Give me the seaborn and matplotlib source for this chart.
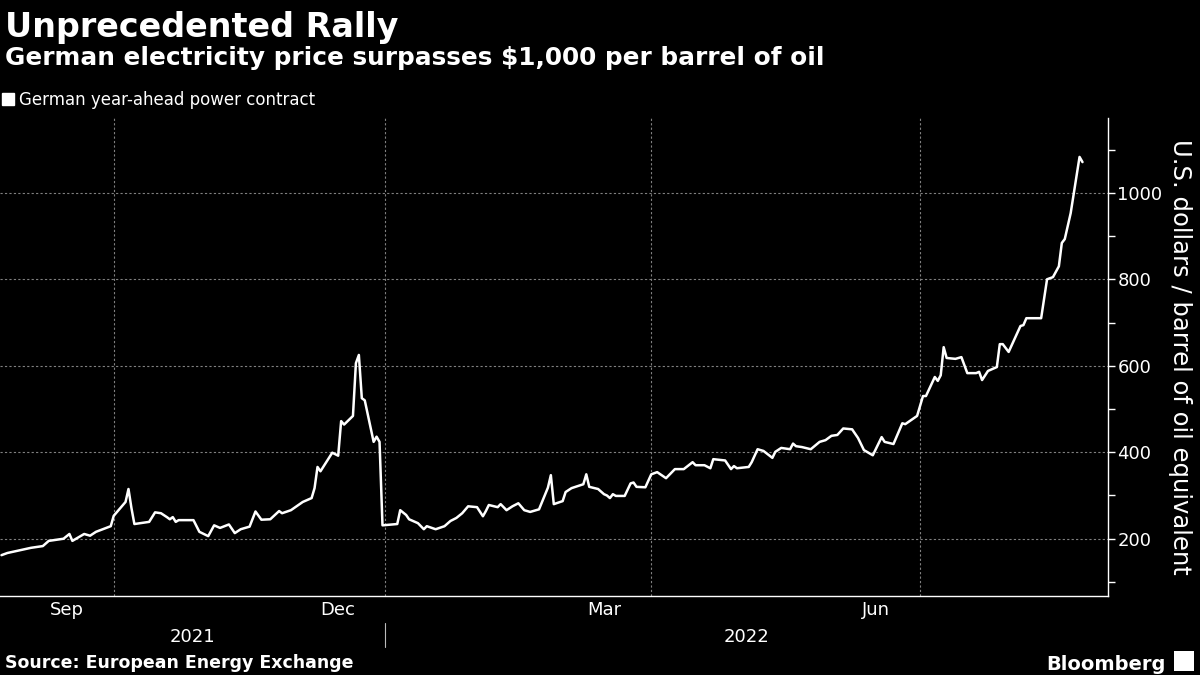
import pandas as pd
import matplotlib
matplotlib.use("Agg")
import matplotlib.pyplot as plt
import matplotlib.dates as mdates
from matplotlib.patches import Patch, Rectangle
from matplotlib.ticker import NullFormatter
import seaborn as sns

# German year-ahead power contract, USD per barrel of oil equivalent
dates = [
    "2021-08-24", "2021-08-26", "2021-09-01", "2021-09-03", "2021-09-07", "2021-09-09",
    "2021-09-14", "2021-09-16", "2021-09-17", "2021-09-21", "2021-09-23", "2021-09-25",
    "2021-09-30", "2021-10-01", "2021-10-05", "2021-10-06", "2021-10-07", "2021-10-08",
    "2021-10-13", "2021-10-15", "2021-10-17", "2021-10-19", "2021-10-20", "2021-10-21",
    "2021-10-22", "2021-10-23", "2021-10-28", "2021-10-30", "2021-11-02", "2021-11-04",
    "2021-11-06", "2021-11-09", "2021-11-11", "2021-11-13", "2021-11-16", "2021-11-18",
    "2021-11-20", "2021-11-23", "2021-11-26", "2021-11-27", "2021-11-30", "2021-12-04",
    "2021-12-07", "2021-12-08", "2021-12-09", "2021-12-10", "2021-12-14", "2021-12-16",
    "2021-12-17", "2021-12-18", "2021-12-21", "2021-12-22", "2021-12-23", "2021-12-24",
    "2021-12-25", "2021-12-28", "2021-12-29", "2021-12-30", "2021-12-31", "2022-01-05",
    "2022-01-06", "2022-01-08", "2022-01-09", "2022-01-12", "2022-01-14", "2022-01-15",
    "2022-01-18", "2022-01-21", "2022-01-23", "2022-01-25", "2022-01-27", "2022-01-29",
    "2022-02-01", "2022-02-03", "2022-02-04", "2022-02-05", "2022-02-08", "2022-02-09",
    "2022-02-11", "2022-02-13", "2022-02-15", "2022-02-17", "2022-02-19", "2022-02-22",
    "2022-02-25", "2022-02-26", "2022-02-27", "2022-03-02", "2022-03-03", "2022-03-05",
    "2022-03-09", "2022-03-10", "2022-03-11", "2022-03-14", "2022-03-16", "2022-03-17",
    "2022-03-18", "2022-03-19", "2022-03-20", "2022-03-23", "2022-03-25", "2022-03-26",
    "2022-03-27", "2022-03-30", "2022-04-01", "2022-04-03", "2022-04-06", "2022-04-09",
    "2022-04-12", "2022-04-15", "2022-04-16", "2022-04-19", "2022-04-21", "2022-04-22",
    "2022-04-26", "2022-04-28", "2022-04-29", "2022-04-30", "2022-05-04", "2022-05-05",
    "2022-05-07", "2022-05-09", "2022-05-12", "2022-05-13", "2022-05-15", "2022-05-18",
    "2022-05-19", "2022-05-20", "2022-05-22", "2022-05-25", "2022-05-28", "2022-05-30",
    "2022-06-01", "2022-06-03", "2022-06-05", "2022-06-08", "2022-06-10", "2022-06-12",
    "2022-06-15", "2022-06-18", "2022-06-19", "2022-06-22", "2022-06-25", "2022-06-26",
    "2022-06-30", "2022-07-02", "2022-07-03", "2022-07-06", "2022-07-07", "2022-07-08",
    "2022-07-09", "2022-07-10", "2022-07-13", "2022-07-15", "2022-07-17", "2022-07-20",
    "2022-07-21", "2022-07-22", "2022-07-24", "2022-07-27", "2022-07-28", "2022-07-29",
    "2022-07-31", "2022-08-04", "2022-08-05", "2022-08-06", "2022-08-11", "2022-08-13",
    "2022-08-15", "2022-08-17", "2022-08-18", "2022-08-19", "2022-08-21", "2022-08-24",
    "2022-08-25",
]
prices = [
    162, 167, 176, 179, 183, 195,
    200, 211, 195, 211, 207, 216,
    229, 253, 285, 315, 271, 234,
    239, 261, 259, 250, 245, 250,
    239, 243, 243, 216, 206, 231,
    225, 233, 213, 222, 228, 263,
    244, 245, 264, 259, 266, 285,
    294, 317, 366, 356, 399, 392,
    472, 464, 484, 606, 625, 525,
    520, 424, 436, 424, 231, 234,
    266, 255, 245, 236, 222, 229,
    222, 229, 241, 248, 259, 275,
    273, 252, 264, 278, 273, 280,
    266, 275, 282, 266, 262, 268,
    318, 347, 280, 287, 308, 317,
    326, 349, 320, 315, 303, 300,
    294, 303, 299, 299, 328, 330,
    320, 319, 349, 354, 340, 361,
    361, 377, 370, 370, 363, 384,
    381, 361, 368, 363, 366, 377,
    407, 403, 387, 401, 410, 407,
    420, 414, 412, 407, 424, 428,
    438, 440, 455, 453, 433, 405,
    393, 435, 424, 419, 467, 465,
    484, 530, 530, 574, 565, 578,
    643, 618, 616, 620, 583, 583,
    586, 567, 588, 597, 650, 650,
    632, 692, 694, 710, 710, 800,
    805, 830, 884, 893, 953, 1083,
    1071,
]

month_labels = ["Sep", "Dec", "Mar", "Jun"]
month_label_dates = ["2021-09-15", "2021-12-16", "2022-03-16", "2022-06-16"]
year_labels = ["2021", "2022"]
y_major = [200, 400, 600, 800, 1000]
y_minor = [100, 300, 500, 700, 900, 1100]

df = pd.DataFrame({"date": pd.to_datetime(dates), "price": prices})

sns.set_style("dark", {"axes.facecolor": "black", "figure.facecolor": "black"})
plt.rcParams["font.family"] = ["DejaVu Sans"]

fig = plt.figure(figsize=(12, 6.75), dpi=100, facecolor="black")
ax = fig.add_axes([0, 0.117, 0.923, 0.708])
ax.set_facecolor("black")

sns.lineplot(data=df, x="date", y="price", color="white", linewidth=1.8, ax=ax)

x0 = pd.Timestamp("2021-08-23 12:00")
x1 = pd.Timestamp("2022-09-02 12:00")
ax.set_xlim(x0, x1)
ax.set_ylim(67.5, 1172.7)
ax.set_xlabel("")
ax.set_ylabel("")

# x axis: ticks at month starts, grid at quarter starts
ax.xaxis.set_major_locator(mdates.MonthLocator(bymonth=[1, 4, 7, 10]))
ax.xaxis.set_minor_locator(mdates.MonthLocator())
ax.xaxis.set_major_formatter(NullFormatter())
ax.xaxis.set_minor_formatter(NullFormatter())
ax.tick_params(axis="x", which="both", direction="out", length=5, width=1, color="white")

# y axis on the right
ax.yaxis.tick_right()
ax.set_yticks(y_major)
ax.set_yticks(y_minor, minor=True)
ax.tick_params(axis="y", which="both", direction="out", length=5, width=1,
               color="white", labelcolor="white", labelsize=13, pad=2)

ax.grid(True, which="major", color="#808080", linestyle=(0, (2, 2)), linewidth=0.8)
ax.grid(False, which="minor")

for side in ["left", "top"]:
    ax.spines[side].set_visible(False)
for side in ["right", "bottom"]:
    ax.spines[side].set_visible(True)
    ax.spines[side].set_color("white")
    ax.spines[side].set_linewidth(1)

# month and year labels under the axis
xt = ax.get_xaxis_transform()
for lab, d in zip(month_labels, month_label_dates):
    ax.text(pd.Timestamp(d), -0.029, lab, transform=xt, ha="center", va="center",
            color="white", fontsize=13)
jan1 = pd.Timestamp("2022-01-01")
year_pos = [x0 + (jan1 - x0) / 2, jan1 + (x1 - jan1) / 2]
for lab, d in zip(year_labels, year_pos):
    ax.text(d, -0.086, lab, transform=xt, ha="center", va="center",
            color="white", fontsize=13)
ax.plot([jan1, jan1], [-0.056, -0.107], transform=xt, color="#bbbbbb",
        linewidth=0.8, clip_on=False)

# titles and annotations
fig.text(0.004, 0.945, "Unprecedented Rally", color="white", fontsize=24,
         fontweight="bold", va="baseline")
fig.text(0.004, 0.903, "German electricity price surpasses $1,000 per barrel of oil",
         color="white", fontsize=17.8, fontweight="bold", va="baseline")
fig.legend(handles=[Patch(facecolor="white", label="German year-ahead power contract")],
           loc="center left", bbox_to_anchor=(0.002, 0.852), frameon=False,
           handlelength=0.7, handleheight=0.7, handletextpad=0.3,
           borderpad=0, borderaxespad=0, labelcolor="white", fontsize=12)
fig.text(0.983, 0.471, "U.S. dollars / barrel of oil equivalent", color="white",
         fontsize=17.5, rotation=-90, ha="center", va="center")
fig.text(0.004, 0.01, "Source: European Energy Exchange", color="white",
         fontsize=12.5, fontweight="bold", va="baseline")
fig.text(0.971, 0.008, "Bloomberg", color="white", fontsize=14,
         fontweight="bold", ha="right", va="baseline")
fig.add_artist(Rectangle((0.978, 0.006), 0.017, 0.03, transform=fig.transFigure,
                         facecolor="white", edgecolor="none"))

fig.savefig("out.png", dpi=100, facecolor="black")
